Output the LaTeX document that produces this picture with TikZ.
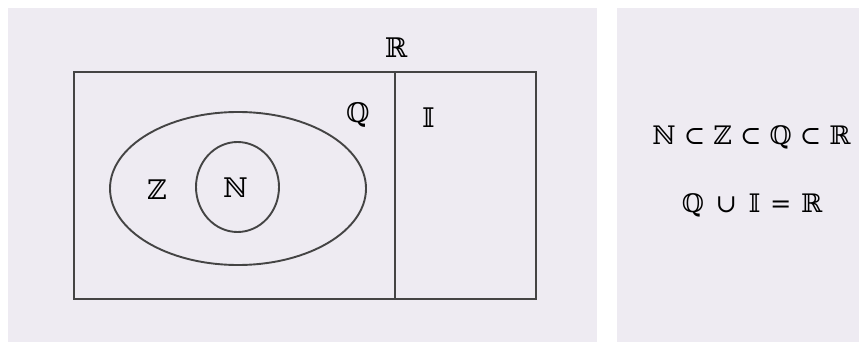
\documentclass[tikz,border=0pt]{standalone}
\usepackage{fontspec}
\newfontfamily\dvs{DejaVu Serif}
\definecolor{panel}{RGB}{238,235,242}
\definecolor{ink}{RGB}{68,68,68}
\tikzset{
  lbl/.style={anchor=base, inner sep=0pt, font=\dvs\fontsize{27}{32}\selectfont},
  eq/.style={anchor=base, inner sep=0pt, font=\dvs\fontsize{25.5}{30}\selectfont},
  setline/.style={draw=ink, line width=1.9pt},
}
\begin{document}
\begin{tikzpicture}[x=1pt,y=-1pt]
\useasboundingbox (0,0) rectangle (859,342);
\fill[white] (0,0) rectangle (859,342);
\fill[panel] (8,8) rectangle (597,342);
\fill[panel] (617,8) rectangle (859,342);
% sets
\draw[setline] (74,72) rectangle (536,299);
\coordinate (dtop) at (395,72);
\coordinate (dbot) at (395,299);
\draw[setline] (dtop) -- (dbot);
\draw[setline] (238,188.5) ellipse [x radius=128, y radius=76.5];
\draw[setline] (237.5,187) ellipse [x radius=41.5, y radius=45];
% labels
\node[lbl] (R) at (396,58) {ℝ};
\node[lbl] (Q) at (358,123) {ℚ};
\node[lbl] (I) at (428.5,127.5) {𝕀};
\node[lbl] (Z) at (157,199) {ℤ};
\node[lbl] (N) at (235.5,197) {ℕ};
% equations
\node[eq] (e1) at (751.5,145) {ℕ ⊂ ℤ ⊂ ℚ ⊂ ℝ};
\node[eq] (e2) at (752,212.5) {ℚ\hspace{3.5pt} ∪\hspace{3.5pt} 𝕀\hspace{1.5pt} =\hspace{1.5pt} ℝ};
\end{tikzpicture}
\end{document}
